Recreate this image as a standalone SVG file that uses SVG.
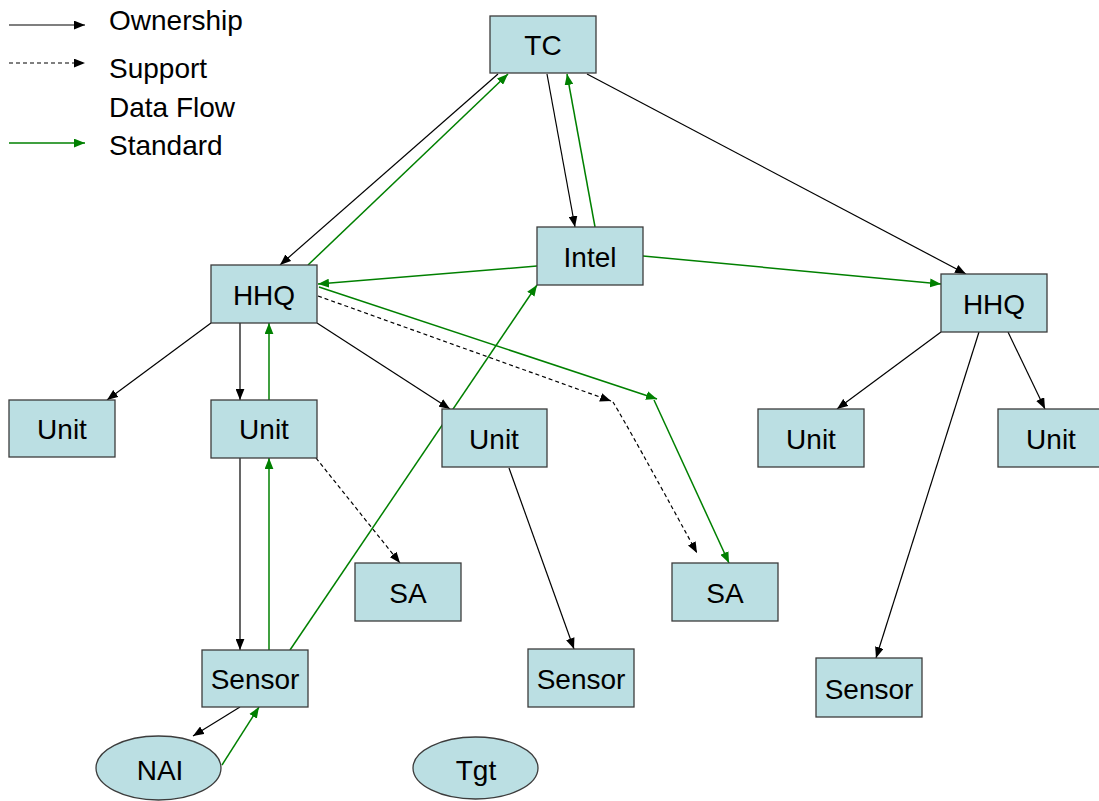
<svg xmlns="http://www.w3.org/2000/svg" width="1099" height="801" viewBox="0 0 1099 801">
<style>
.box{fill:#BBDFE3;stroke:#3c3c3c;stroke-width:1.3}
.lbl{font-family:"Liberation Sans",Arial,sans-serif;font-size:28px;fill:#000;text-anchor:middle}
.leg{font-family:"Liberation Sans",Arial,sans-serif;font-size:28px;fill:#000}
.own{stroke:#000;stroke-width:1.2;fill:none;marker-end:url(#ab)}
.sup{stroke:#000;stroke-width:1.2;fill:none;stroke-dasharray:4 3;marker-end:url(#ab)}
.std{stroke:#008000;stroke-width:1.5;fill:none;marker-end:url(#ag)}
</style>
<defs>
<marker id="ab" viewBox="0 0 10 8" refX="10" refY="4" markerWidth="11" markerHeight="9" orient="auto" markerUnits="userSpaceOnUse"><path d="M0,0 L10,4 L0,8 Z" fill="#000"/></marker>
<marker id="ag" viewBox="0 0 10 8" refX="10" refY="4" markerWidth="11" markerHeight="9" orient="auto" markerUnits="userSpaceOnUse"><path d="M0,0 L10,4 L0,8 Z" fill="#008000"/></marker>
</defs>
<rect width="1099" height="801" fill="#fff"/>
<g id="legend">
<line class="own" x1="9" y1="25" x2="85" y2="25"/>
<line class="sup" x1="9" y1="63" x2="85" y2="63"/>
<line class="std" x1="9" y1="143" x2="85" y2="143"/>
<text class="leg" x="109" y="30">Ownership</text>
<text class="leg" x="109" y="78">Support</text>
<text class="leg" x="109" y="117">Data Flow</text>
<text class="leg" x="109" y="155">Standard</text>
</g>
<g id="connectors">
<line class="own" x1="498" y1="74" x2="280" y2="265"/>
<line class="std" x1="308" y1="265" x2="508" y2="74"/>
<line class="own" x1="547" y1="74" x2="575" y2="227"/>
<line class="std" x1="595" y1="227" x2="567" y2="74"/>
<line class="own" x1="587" y1="74" x2="966" y2="274"/>
<line class="std" x1="537" y1="266" x2="318" y2="284"/>
<line class="std" x1="643" y1="256" x2="941" y2="284"/>
<line class="own" x1="211" y1="323" x2="107" y2="400"/>
<line class="own" x1="240" y1="323" x2="240" y2="400"/>
<line class="std" x1="269" y1="400" x2="269" y2="323"/>
<line class="own" x1="317" y1="323" x2="450" y2="409"/>
<line class="sup" x1="318" y1="296" x2="611" y2="401"/>
<path class="sup" d="M613,402 Q630,430 697,553"/>
<line class="std" x1="319" y1="287" x2="657" y2="399"/>
<line class="std" x1="654" y1="400" x2="729" y2="563"/>
<line class="own" x1="240" y1="458" x2="240" y2="650"/>
<line class="std" x1="269" y1="650" x2="269" y2="458"/>
<line class="sup" x1="316" y1="458" x2="400" y2="563"/>
<line class="std" x1="290" y1="650" x2="537" y2="285"/>
<line class="own" x1="509" y1="468" x2="574" y2="649"/>
<line class="own" x1="941" y1="332" x2="837" y2="409"/>
<line class="own" x1="1008" y1="332" x2="1045" y2="409"/>
<line class="own" x1="979" y1="332" x2="876" y2="658"/>
<line class="own" x1="240" y1="707" x2="193" y2="736"/>
<line class="std" x1="222" y1="765" x2="259" y2="707"/>
</g>
<g id="tc"><rect class="box" x="490" y="16" width="106" height="57"/><text class="lbl" x="543" y="55">TC</text></g>
<g id="hhq-left"><rect class="box" x="211" y="265" width="106" height="58"/><text class="lbl" x="264" y="305">HHQ</text></g>
<g id="intel"><rect class="box" x="537" y="227" width="106" height="58"/><text class="lbl" x="590" y="267">Intel</text></g>
<g id="hhq-right"><rect class="box" x="941" y="274" width="106" height="58"/><text class="lbl" x="994" y="314">HHQ</text></g>
<g id="unit-1"><rect class="box" x="9" y="400" width="106" height="57"/><text class="lbl" x="62" y="439">Unit</text></g>
<g id="unit-2"><rect class="box" x="211" y="400" width="106" height="58"/><text class="lbl" x="264" y="439">Unit</text></g>
<g id="unit-3"><rect class="box" x="442" y="409" width="105" height="58"/><text class="lbl" x="494" y="449">Unit</text></g>
<g id="unit-4"><rect class="box" x="758" y="409" width="106" height="58"/><text class="lbl" x="811" y="449">Unit</text></g>
<g id="unit-5"><rect class="box" x="998" y="409" width="106" height="58"/><text class="lbl" x="1051" y="449">Unit</text></g>
<g id="sa-1"><rect class="box" x="355" y="563" width="106" height="58"/><text class="lbl" x="408" y="603">SA</text></g>
<g id="sa-2"><rect class="box" x="672" y="563" width="106" height="58"/><text class="lbl" x="725" y="603">SA</text></g>
<g id="sensor-1"><rect class="box" x="202" y="650" width="106" height="57"/><text class="lbl" x="255" y="689">Sensor</text></g>
<g id="sensor-2"><rect class="box" x="528" y="649" width="106" height="58"/><text class="lbl" x="581" y="689">Sensor</text></g>
<g id="sensor-3"><rect class="box" x="816" y="658" width="106" height="59"/><text class="lbl" x="869" y="699">Sensor</text></g>
<g id="nai"><ellipse class="box" cx="158.5" cy="768" rx="62.5" ry="32"/><text class="lbl" x="160" y="780">NAI</text></g>
<g id="tgt"><ellipse class="box" cx="475.5" cy="768" rx="62.5" ry="31"/><text class="lbl" x="476" y="780">Tgt</text></g>
</svg>
